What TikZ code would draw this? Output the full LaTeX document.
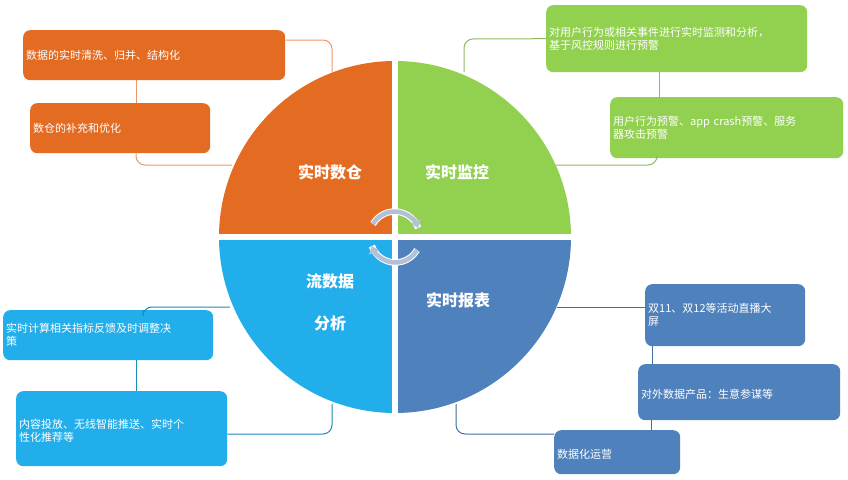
\documentclass[tikz,border=0pt]{standalone}
\usepackage{fontspec}
\setmainfont{Noto Sans CJK SC}
\usetikzlibrary{arrows.meta}
\definecolor{cor}{HTML}{E46C22}
\definecolor{cgr}{HTML}{92D050}
\definecolor{clb}{HTML}{22AEEA}
\definecolor{csb}{HTML}{4F81BD}
\definecolor{carr}{HTML}{B4C0D8}
\begin{document}
\begin{tikzpicture}[x=1pt,y=-1pt,
  box/.style={rounded corners=7pt,text=white,font=\fontsize{11}{13}\selectfont,align=left,anchor=north west,inner xsep=3pt,inner ysep=4pt},
  lab/.style={text=white,font=\bfseries\fontsize{16}{18}\selectfont},
  con/.style={line width=1pt,rounded corners=9pt}]
\useasboundingbox (0,0) rectangle (848,479);
\coordinate (c) at (395,237);
% quadrants
\fill[cor] (c) -- (219,237) arc[start angle=180,end angle=270,radius=176] -- cycle;
\fill[cgr] (c) -- (395,61) arc[start angle=270,end angle=360,radius=176] -- cycle;
\fill[clb] (c) -- (219,237) arc[start angle=180,end angle=90,radius=176] -- cycle;
\fill[csb] (c) -- (571,237) arc[start angle=0,end angle=90,radius=176] -- cycle;
\draw[white,line width=6pt] (215,237) -- (575,237);
\draw[white,line width=6pt] (395,57) -- (395,417);
% labels
\node[lab] (l1) at (330,172) {实时数仓};
\node[lab] (l2) at (457,172) {实时监控};
\node[lab] (l3) at (330,281) {流数据};
\node[lab] (l4) at (330,323) {分析};
\node[lab] (l5) at (458,300) {实时报表};
% cycle arrows
\draw[white,line width=6.5pt] (373,224) arc[start angle=-150,end angle=-20,radius=25];
\draw[carr,line width=4.5pt,-{Triangle[length=7pt,width=11pt]}] (373,224) arc[start angle=-150,end angle=-20,radius=25];
\draw[white,line width=6.5pt] (417,250) arc[start angle=30,end angle=160,radius=25];
\draw[carr,line width=4.5pt,-{Triangle[length=7pt,width=11pt]}] (417,250) arc[start angle=30,end angle=160,radius=25];
% orange boxes
\node[box,fill=cor,text width=256pt,minimum height=50pt] (o1) at (23,30) {数据的实时清洗、归并、结构化};
\node[box,fill=cor,text width=174pt,minimum height=50pt] (o2) at (30,103) {数仓的补充和优化};
\coordinate (oc1) at (332,72);
\coordinate (oc2) at (232,165);
\draw[cor!70,con] ([yshift=-10pt]o1.north east) -- (332,40) -- (oc1);
\draw[cor!70,con] (o1.south -| 136,0) -- (o2.north -| 136,0);
\draw[cor!70,con] (o2.south -| 136,0) -- (136,165) -- (oc2);
% green boxes
\node[box,fill=cgr,text width=255pt,minimum height=67pt] (g1) at (546,5) {对用户行为或相关事件进行实时监测和分析，\\基于风控规则进行预警};
\node[box,fill=cgr,text width=227pt,minimum height=61pt] (g2) at (610,97) {用户行为预警、app crash预警、服务\\器攻击预警};
\coordinate (gc1) at (464,72);
\coordinate (gc2) at (556,165);
\draw[cgr!80!black!80,con] (g1.west) -- (464,39) -- (gc1);
\draw[cgr!80!black!80,con] (g1.south -| 659,0) -- (g2.north -| 659,0);
\draw[cgr!80!black!80,con] (g2.south -| 657,0) -- (657,165) -- (gc2);
% light blue boxes
\node[box,fill=clb,text width=204pt,minimum height=50pt] (b1) at (3,310) {实时计算相关指标反馈及时调整决\\策};
\node[box,fill=clb,text width=205pt,minimum height=75pt] (b2) at (16,391) {\\内容投放、无线智能推送、实时个\\性化推荐等};
\coordinate (bc1) at (230,307);
\coordinate (bc2) at (332,404);
\draw[clb!80!black,con] (b1.north -| 143,0) -- (143,307) -- (bc1);
\draw[clb!80!black,con] (b1.south -| 136,0) -- (b2.north -| 136,0);
\draw[clb!80!black,con] (b2.east |- 0,434) -- (332,434) -- (bc2);
% steel blue boxes
\node[box,fill=csb,text width=154pt,minimum height=62pt] (s1) at (645,284) {双11、双12等活动直播大\\屏};
\node[box,fill=csb,text width=196pt,minimum height=56pt] (s2) at (638,364) {\\对外数据产品：生意参谋等};
\node[box,fill=csb,text width=120pt,minimum height=44pt] (s3) at (554,430) {\\数据化运营};
\coordinate (sc1) at (557,307);
\coordinate (sc2) at (456,404);
\draw[csb!85!black,con] (sc1) -- (s1.west |- 0,307);
\draw[csb!85!black,con] (s1.south -| 652,0) -- (s2.north -| 652,0);
\draw[csb!85!black,con] (s2.south -| 651,0) -- (s3.north -| 651,0);
\draw[csb!85!black,con] (sc2) -- (456,434) -- (s3.west |- 0,434);
\end{tikzpicture}
\end{document}
